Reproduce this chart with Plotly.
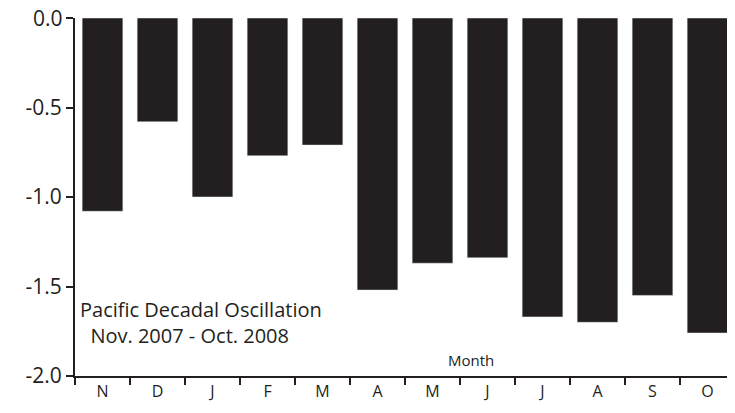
import plotly.graph_objects as go

months = ["N", "D", "J", "F", "M", "A", "M ", "J ", "J  ", "A ", "S", "O"]
tick_text = ["N", "D", "J", "F", "M", "A", "M", "J", "J", "A", "S", "O"]
pdo = [-1.08, -0.58, -1.00, -0.77, -0.71, -1.52, -1.37, -1.34, -1.67, -1.70, -1.55, -1.76]

fig = go.Figure(go.Bar(x=months, y=pdo, marker_color="#231f20", width=0.74))

# page body has an 8px margin, so the figure is shrunk to fit the window
fig.update_layout(
    width=727, height=405,
    margin=dict(l=67, r=0, t=10, b=37),
    plot_bgcolor="white", paper_bgcolor="white",
    font=dict(family="Open Sans", color="#231f20"),
    showlegend=False,
)
fig.update_xaxes(
    tickvals=months, ticktext=tick_text, tickson="boundaries",
    ticks="outside", ticklen=7, tickwidth=1.5, tickcolor="#231f20",
    showline=True, linecolor="#231f20", linewidth=2,
    tickfont=dict(size=16), showgrid=False, automargin=False,
)
fig.update_yaxes(
    range=[-2.0, 0.0], tickvals=[0, -0.5, -1.0, -1.5, -2.0],
    ticktext=["", "-0.5", "-1.0", "-1.5", "-2.0"],
    ticks="outside", ticklen=7, tickwidth=1.5, tickcolor="#231f20",
    showline=True, linecolor="#231f20", linewidth=2,
    tickfont=dict(size=21), showgrid=False, zeroline=False, automargin=False,
)
# top label drawn as annotation so it is not dropped at the paper edge
fig.add_annotation(
    xref="paper", yref="y", x=0, y=0, xshift=-10, xanchor="right", yanchor="middle",
    text="0.0", showarrow=False, font=dict(size=21, color="#231f20"),
)
fig.add_annotation(
    xref="paper", yref="paper", x=0.005, y=0.07, xanchor="left", yanchor="bottom",
    text="Pacific Decadal Oscillation<br>  Nov. 2007 - Oct. 2008",
    showarrow=False, align="left", font=dict(size=20, color="#231f20"),
)
fig.add_annotation(
    xref="paper", yref="paper", x=0.6, y=0.01, xanchor="center", yanchor="bottom",
    text="Month", showarrow=False, font=dict(size=15, color="#231f20"),
)

fig.write_html("out.html")
